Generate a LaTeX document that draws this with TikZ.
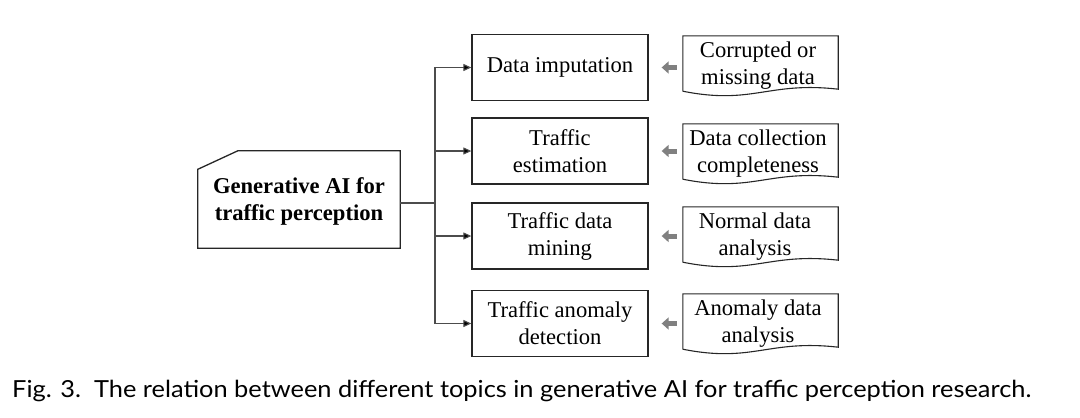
\documentclass[tikz,border=0pt]{standalone}
\usepackage{fontspec}
\setmainfont{Liberation Serif}
\newfontfamily\capfont{Lato}
\usetikzlibrary{arrows.meta}
\begin{document}
\begin{tikzpicture}[x=1pt,y=-1pt,
  font=\fontsize{22.6}{27}\selectfont,
  tbox/.style={draw=black!85, line width=1.3pt, minimum width=176pt, minimum height=66pt, align=center, inner sep=0pt},
  docnode/.style={minimum width=155pt, minimum height=53pt, align=center, inner sep=0pt},
  docline/.style={draw=black!85, line width=1.1pt},
  conn/.style={draw=black!70, line width=1.1pt},
  carrow/.style={conn, -{Triangle[length=8pt,width=7pt,fill=black]}},
  garrow/.style={draw=black!50, line width=5pt, -{Triangle[length=7pt,width=12pt]}, shorten <=#1, shorten >=13pt}
]
\useasboundingbox (0,0) rectangle (1080,418);

% main box
\node[minimum width=202pt, minimum height=97pt, inner sep=0pt, align=center, font=\bfseries\fontsize{22.6}{27}\selectfont] (main) at (299,201) {Generative AI for\\traffic perception};
\draw[draw=black!85, line width=1.3pt] ([yshift=-17pt]main.north west) -- ([xshift=40pt,yshift=1.5pt]main.north west) -- ([yshift=1.5pt]main.north east) -- ([yshift=1.5pt]main.south east) -- ([yshift=1.5pt]main.south west) -- cycle;

% topic boxes
\node[tbox] (b1) at (560,67.5) {Data imputation};
\node[tbox] (b2) at (560,151) {Traffic\\estimation};
\node[tbox] (b3) at (560,236) {Traffic data\\mining};
\node[tbox] (b4) at (560,323.5) {Traffic anomaly\\detection};

% document boxes (text sits a little low in the outline)
\node[docnode] (d1) at (758,65.5) {Corrupted or\\missing data};
\node[docnode] (d2) at (758,153.5) {Data collection\\completeness};
\node[docnode] (d3) at (755,236.5) {Normal data\\analysis};
\node[docnode] (d4) at (758,323.5) {Anomaly data\\analysis};
\foreach \d/\dx in {d1/2.5,d2/2.5,d3/5.5,d4/2.5}{
  \draw[docline] ([shift={(\dx pt,1pt)}]\d.south west) -- ([shift={(\dx pt,3pt)}]\d.north west) -- ([shift={(\dx pt,3pt)}]\d.north east) -- ([shift={(\dx pt,3pt)}]\d.south east)
    .. controls ([shift={(\dx pt-70pt,11pt)}]\d.south east) and ([shift={(\dx pt+70pt,-13pt)}]\d.south west) .. ([shift={(\dx pt,1pt)}]\d.south west);
}

% connectors
\coordinate (tr) at (435,203);
\draw[conn] (main.east |- tr) -- (tr);
\draw[carrow] (tr) |- (b1.west);
\draw[carrow] (tr) |- (b2.west);
\draw[carrow] (tr) |- (b3.west);
\draw[carrow] (tr) |- (b4.west);

% gray arrows
\draw[garrow=3.5pt] (d1.west |- b1.east) -- (b1.east);
\draw[garrow=3.5pt] (d2.west |- b2.east) -- (b2.east);
\draw[garrow=0.5pt] (d3.west |- b3.east) -- (b3.east);
\draw[garrow=3.5pt] (d4.west |- b4.east) -- (b4.east);

% caption
\node[anchor=base west, inner sep=0pt, font=\capfont\fontsize{23.5}{28}\selectfont] (cap) at (12,397) {\scalebox{1.08}[1]{Fig. 3.\ \ The relation between different topics in generative AI for traffic perception research.}};
\end{tikzpicture}
\end{document}
